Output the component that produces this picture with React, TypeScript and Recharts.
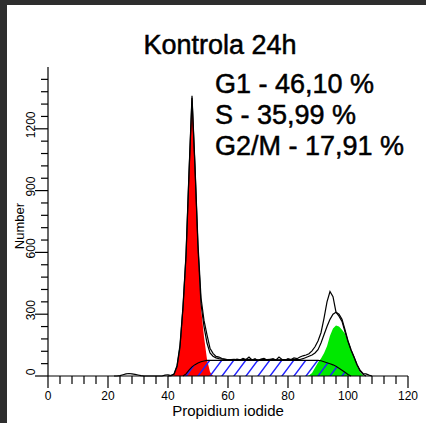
import { ComposedChart, Area, Line, XAxis, YAxis } from 'recharts';

const TITLE = 'Kontrola 24h';
const STATS = ['G1 - 46,10 %', 'S - 35,99 %', 'G2/M - 17,91 %'];
const X_LABEL = 'Propidium iodide';
const Y_LABEL = 'Number';

const xTicks = [0, 4, 8, 12, 16, 20, 24, 28, 32, 36, 40, 44, 48, 52, 56, 60, 64, 68, 72, 76, 80, 84, 88, 92, 96, 100, 104, 108, 112, 116, 120];
const xMajor = [0, 20, 40, 60, 80, 100, 120];
const yTicks = [0, 60, 120, 180, 240, 300, 360, 420, 480, 540, 600, 660, 720, 780, 840, 900, 960, 1020, 1080, 1140, 1200, 1260, 1320, 1380, 1440];
const yMajor = [0, 300, 600, 900, 1200];

// raw histogram (channels 22..108)
const histStart = 22;
const histCounts = [
  0, 0, 2, 6, 10, 12, 10, 8, 5, 2, 0, 0, 0, 0, 0, 0, 0, 4, 6, 2,
  10, 50, 150, 340, 590, 990, 1360, 1020, 640, 380, 270, 200, 135, 110, 95, 92, 85, 82, 78, 80,
  76, 82, 78, 85, 80, 92, 78, 84, 74, 82, 86, 78, 80, 84, 78, 92, 80, 76, 84, 80,
  88, 84, 92, 98, 102, 108, 122, 142, 170, 210, 280, 360, 410, 385, 310, 290, 265, 215, 168, 126,
  92, 56, 28, 12, 10, 4, 0,
];

// fitted model (channels 40..106)
const fitStart = 40;
const fitCounts = [
  0, 2, 8, 45, 140, 330, 580, 980, 1350, 1010, 620, 350, 240, 160, 112, 96, 88, 84, 82, 80,
  80, 80, 81, 80, 79, 80, 80, 81, 80, 80, 79, 80, 80, 80, 81, 80, 80, 79, 80, 80,
  80, 80, 80, 80, 80, 84, 90, 96, 102, 112, 128, 160, 200, 240, 275, 300, 310, 300, 275, 225,
  170, 128, 92, 55, 25, 8, 0,
];

// G1 component (channels 41..55)
const g1Start = 41;
const g1Counts = [0, 5, 40, 130, 320, 560, 960, 1350, 1000, 600, 330, 190, 80, 20, 0];

// S phase component (channels 45..101)
const sStart = 45;
const sCounts = [
  0, 10, 28, 44, 55, 63, 69, 73, 76, 76, 76, 76, 76, 76, 76, 76, 76, 76, 76, 76,
  76, 76, 76, 76, 76, 76, 76, 76, 76, 76, 76, 76, 76, 76, 76, 76, 76, 76, 76, 76,
  76, 76, 76, 76, 76, 76, 74, 69, 64, 59, 54, 47, 38, 28, 18, 7, 0,
];

// G2/M component (channels 86..106)
const g2Start = 86;
const g2Counts = [0, 2, 15, 40, 65, 85, 110, 145, 195, 230, 245, 240, 225, 205, 165, 125, 90, 50, 20, 3, 0];

const pick = (start: number, arr: number[], ch: number) => {
  const i = ch - start;
  return i >= 0 && i < arr.length ? arr[i] : null;
};

const rows: any[] = [];
for (let ch = 0; ch <= 120; ch++) {
  rows.push({
    ch,
    hist: pick(histStart, histCounts, ch),
    fit: pick(fitStart, fitCounts, ch),
    g1: pick(g1Start, g1Counts, ch),
    s: pick(sStart, sCounts, ch),
    g2: pick(g2Start, g2Counts, ch),
  });
}

const FONT = '"Liberation Sans", Arial, sans-serif';
const PLOT_LEFT = 48;
const PLOT_BOTTOM = 376;

function XTick(props: any) {
  const { x, payload } = props;
  const major = xMajor.includes(payload.value);
  return (
    <g>
      <line x1={x} x2={x} y1={PLOT_BOTTOM} y2={PLOT_BOTTOM + (major ? 12 : 8)} stroke="#000" strokeWidth={1.2} />
      {major && (
        <text x={x} y={PLOT_BOTTOM + 24} textAnchor="middle" fontSize={12} fontFamily={FONT} fill="#000">
          {payload.value}
        </text>
      )}
    </g>
  );
}

function YTick(props: any) {
  const { y, payload } = props;
  const major = yMajor.includes(payload.value);
  return (
    <g>
      <line x1={PLOT_LEFT - (major ? 13 : 7)} x2={PLOT_LEFT} y1={y} y2={y} stroke="#000" strokeWidth={1.2} />
      {major && (
        <text
          x={35}
          y={y - 4}
          textAnchor="middle"
          fontSize={12}
          fontFamily={FONT}
          fill="#000"
          transform={`rotate(-90, 35, ${y - 4})`}
        >
          {payload.value}
        </text>
      )}
    </g>
  );
}

export default function App() {
  return (
    <div style={{ position: 'fixed', left: 0, top: 0, width: 426, height: 423, background: '#2e2e2e' }}>
      <div style={{ position: 'absolute', left: 7, top: 5, right: 0, bottom: 0, background: '#fff' }} />
      <div style={{ position: 'absolute', left: 0, top: 0 }}>
        <ComposedChart width={426} height={423} data={rows} margin={{ top: 67, right: 18, bottom: 7, left: 8 }}>
          <defs>
            <pattern id="sHatch" patternUnits="userSpaceOnUse" width="12" height="16">
              <path d="M-3,4 L3,-4 M0,16 L12,0 M9,20 L15,12" stroke="#2020ff" strokeWidth={1.4} />
            </pattern>
          </defs>
          <XAxis
            dataKey="ch"
            type="number"
            domain={[0, 120]}
            ticks={xTicks}
            interval={0}
            tickLine={false}
            tick={<XTick />}
            axisLine={{ stroke: '#000', strokeWidth: 1.2 }}
            height={40}
          />
          <YAxis
            type="number"
            domain={[0, 1500]}
            ticks={yTicks}
            interval={0}
            tickLine={false}
            tick={<YTick />}
            axisLine={{ stroke: '#000', strokeWidth: 1.2 }}
            width={40}
          />
          <Area dataKey="g1" type="linear" fill="#ff0000" fillOpacity={1} stroke="none" isAnimationActive={false} />
          <Area dataKey="g2" type="linear" fill="#00e800" fillOpacity={1} stroke="none" isAnimationActive={false} />
          <Area dataKey="s" type="linear" fill="url(#sHatch)" fillOpacity={1} stroke="#000" strokeWidth={1.1} isAnimationActive={false} />
          <Line dataKey="fit" type="linear" stroke="#000" strokeWidth={1.2} dot={false} isAnimationActive={false} />
          <Line dataKey="hist" type="linear" stroke="#000" strokeWidth={1.2} dot={false} isAnimationActive={false} />
        </ComposedChart>
      </div>
      <svg width={426} height={423} style={{ position: 'absolute', left: 0, top: 0, pointerEvents: 'none' }}>
        <text x={220} y={54} textAnchor="middle" fontSize={27} fontFamily={FONT} fill="#000" stroke="#000" strokeWidth={0.5}>
          {TITLE}
        </text>
        {STATS.map((s, i) => (
          <text key={s} x={215} y={93 + i * 31} fontSize={27} fontFamily={FONT} fill="#000" stroke="#000" strokeWidth={0.5}>
            {s}
          </text>
        ))}
        <text x={228} y={416} textAnchor="middle" fontSize={15} fontFamily={FONT} fill="#000">
          {X_LABEL}
        </text>
        <text x={24} y={226} textAnchor="middle" fontSize={13} fontFamily={FONT} fill="#000" transform="rotate(-90, 24, 226)">
          {Y_LABEL}
        </text>
      </svg>
    </div>
  );
}
